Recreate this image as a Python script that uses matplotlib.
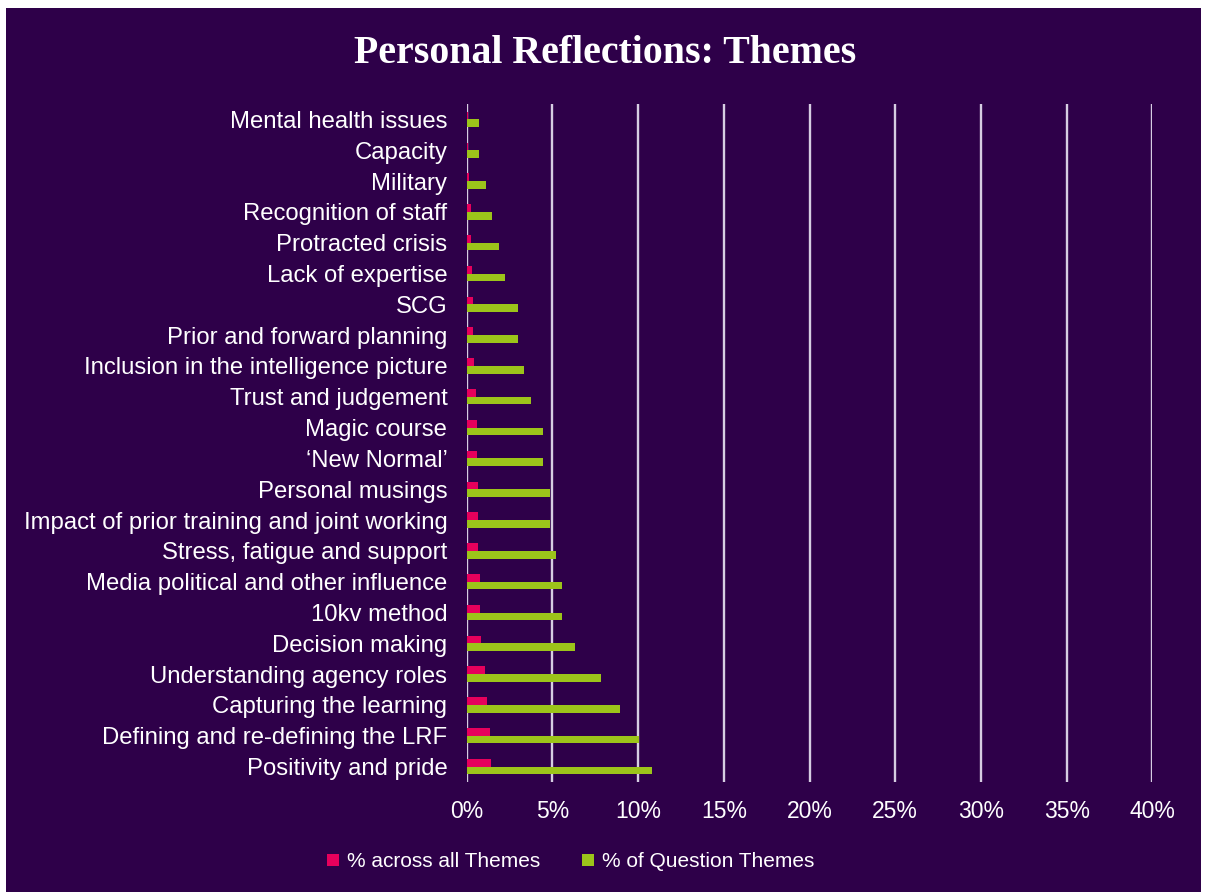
import matplotlib.pyplot as plt
import matplotlib.patches as patches
from matplotlib.ticker import FuncFormatter
import numpy as np

# Themes listed bottom-to-top as they appear on the chart
themes = ["Positivity and pride", "Defining and re-defining the LRF",
          "Capturing the learning", "Understanding agency roles",
          "Decision making", "10kv method", "Media political and other influence",
          "Stress, fatigue and support", "Impact of prior training and joint working",
          "Personal musings", "\u2018New Normal\u2019", "Magic course",
          "Trust and judgement", "Inclusion in the intelligence picture",
          "Prior and forward planning", "SCG", "Lack of expertise",
          "Protracted crisis", "Recognition of staff", "Military",
          "Capacity", "Mental health issues"]

# percentage values (fractions)
across_all = [0.0142, 0.0136, 0.0120, 0.0105, 0.0084, 0.0076, 0.0076,
              0.0068, 0.0068, 0.0068, 0.0060, 0.0060, 0.0053, 0.0045,
              0.0037, 0.0037, 0.0031, 0.0023, 0.0023, 0.0014, 0.0008, 0.0008]
question = [0.1078, 0.1004, 0.0892, 0.0781, 0.0632, 0.0558, 0.0558,
            0.0520, 0.0483, 0.0483, 0.0446, 0.0446, 0.0372, 0.0335,
            0.0297, 0.0297, 0.0223, 0.0186, 0.0149, 0.0112, 0.0074, 0.0074]

bg = "#2e0049"
pink = "#e6005c"
green = "#9cc41a"
grid_col = "#d6cde2"
txt = "white"

plt.rcParams["font.family"] = ["Liberation Sans", "DejaVu Sans"]

fig = plt.figure(figsize=(12.07, 8.92), dpi=100, facecolor="white")
fig.patches.append(patches.Rectangle((6 / 1207, 0), 1195 / 1207, 1 - 8 / 892,
                                     transform=fig.transFigure, facecolor=bg,
                                     edgecolor="none", zorder=-5))

ax = fig.add_axes([0.3867, 0.1233, 0.5681, 0.7601])
ax.set_facecolor(bg)

y = np.arange(len(themes))
h = 0.25
ax.barh(y + h / 2, across_all, height=h, color=pink, label="% across all Themes", zorder=3)
ax.barh(y - h / 2, question, height=h, color=green, label="% of Question Themes", zorder=3)

ax.set_xlim(0, 0.40)
ax.set_ylim(-0.5, len(themes) - 0.5)
ax.set_xticks(np.arange(0, 0.401, 0.05))
ax.xaxis.set_major_formatter(FuncFormatter(lambda v, p: "{:.0f}%".format(v * 100)))
ax.set_yticks(y)
ax.set_yticklabels(themes)
ax.tick_params(axis="x", length=0, pad=13, labelsize=16.5, colors=txt)
ax.tick_params(axis="y", length=0, pad=14, labelsize=17.2, colors=txt)
ax.grid(axis="x", color=grid_col, linewidth=1.7, zorder=1)
ax.set_axisbelow(True)
for s in ax.spines.values():
    s.set_visible(False)

fig.text(0.501, 0.940, "Personal Reflections: Themes", ha="center", va="center",
         color=txt, fontsize=28.7, fontweight="bold", family="Liberation Serif")

leg = fig.legend(loc="center", bbox_to_anchor=(0.473, 0.034), ncol=2, frameon=False,
                 fontsize=15, handlelength=0.55, handleheight=0.55, handletextpad=0.4,
                 columnspacing=2.0, labelcolor=txt)

fig.savefig("out.png", dpi=100, facecolor=fig.get_facecolor())
